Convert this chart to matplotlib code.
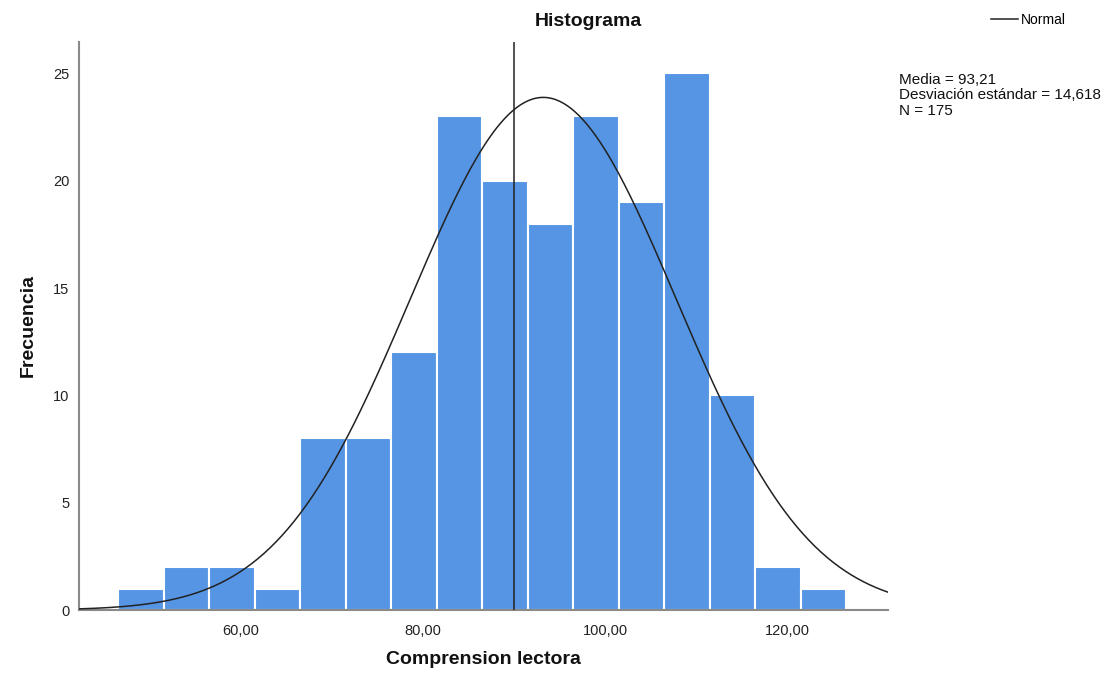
import numpy as np
import matplotlib
matplotlib.use("Agg")
import matplotlib.pyplot as plt

plt.rcParams['font.family'] = ['Liberation Sans', 'DejaVu Sans']

# histogram data (bin width 5)
bin_edges = [46.5, 51.5, 56.5, 61.5, 66.5, 71.5, 76.5, 81.5, 86.5,
             91.5, 96.5, 101.5, 106.5, 111.5, 116.5, 121.5, 126.5]
counts = [1, 2, 2, 1, 8, 8, 12, 23, 20, 18, 23, 19, 25, 10, 2, 1]
mean_val = 93.21
std_val = 14.618
n_total = 175
ref_line = 90.0
x_ticks = [60, 80, 100, 120]
x_tick_labels = ['60,00', '80,00', '100,00', '120,00']
y_ticks = [0, 5, 10, 15, 20, 25]

fig = plt.figure(figsize=(11.04, 6.8), dpi=100)
ax = fig.add_axes([0.0716, 0.1029, 0.7328, 0.835])

widths = np.diff(bin_edges)
ax.bar(bin_edges[:-1], counts, width=widths, align='edge',
       color='#5595e3', edgecolor='white', linewidth=1.5, zorder=2)

# normal curve
xmin, xmax = 42.2, 131.1
xs = np.linspace(xmin, xmax, 400)
bw = widths[0]
ys = n_total * bw * np.exp(-0.5 * ((xs - mean_val) / std_val) ** 2) / (std_val * np.sqrt(2 * np.pi))
line, = ax.plot(xs, ys, color='#222222', linewidth=1.1, zorder=3)

ax.axvline(ref_line, color='#222222', linewidth=1.1, zorder=3)

ax.set_xlim(xmin, xmax)
ax.set_ylim(0, 26.45)
ax.set_xticks(x_ticks)
ax.set_xticklabels(x_tick_labels)
ax.set_yticks(y_ticks)
ax.tick_params(length=0, labelsize=10.5, colors='#222222')
ax.tick_params(axis='x', pad=10)
ax.tick_params(axis='y', pad=7)
for s in ['top', 'right']:
    ax.spines[s].set_visible(False)
for s in ['left', 'bottom']:
    ax.spines[s].set_color('#8a8a8a')
    ax.spines[s].set_linewidth(1.5)

fig.text(0.533, 0.968, 'Histograma', ha='center', va='center',
         fontsize=14, fontweight='bold', color='#111111')
fig.text(0.438, 0.018, 'Comprension lectora', ha='center', va='bottom',
         fontsize=14, fontweight='bold', color='#111111')
fig.text(0.026, 0.522, 'Frecuencia', ha='center', va='center', rotation=90,
         fontsize=14, fontweight='bold', color='#111111')

fig.legend([line], ['Normal'], loc='center left', bbox_to_anchor=(0.886, 0.971),
           frameon=False, fontsize=10, handlelength=2.0, handletextpad=0.2)

fig.text(0.814, 0.893,
         'Media = 93,21\nDesviación estándar = 14,618\nN = 175',
         ha='left', va='top', fontsize=11, linespacing=1.14, color='#111111')

fig.savefig('out.png', dpi=100)
